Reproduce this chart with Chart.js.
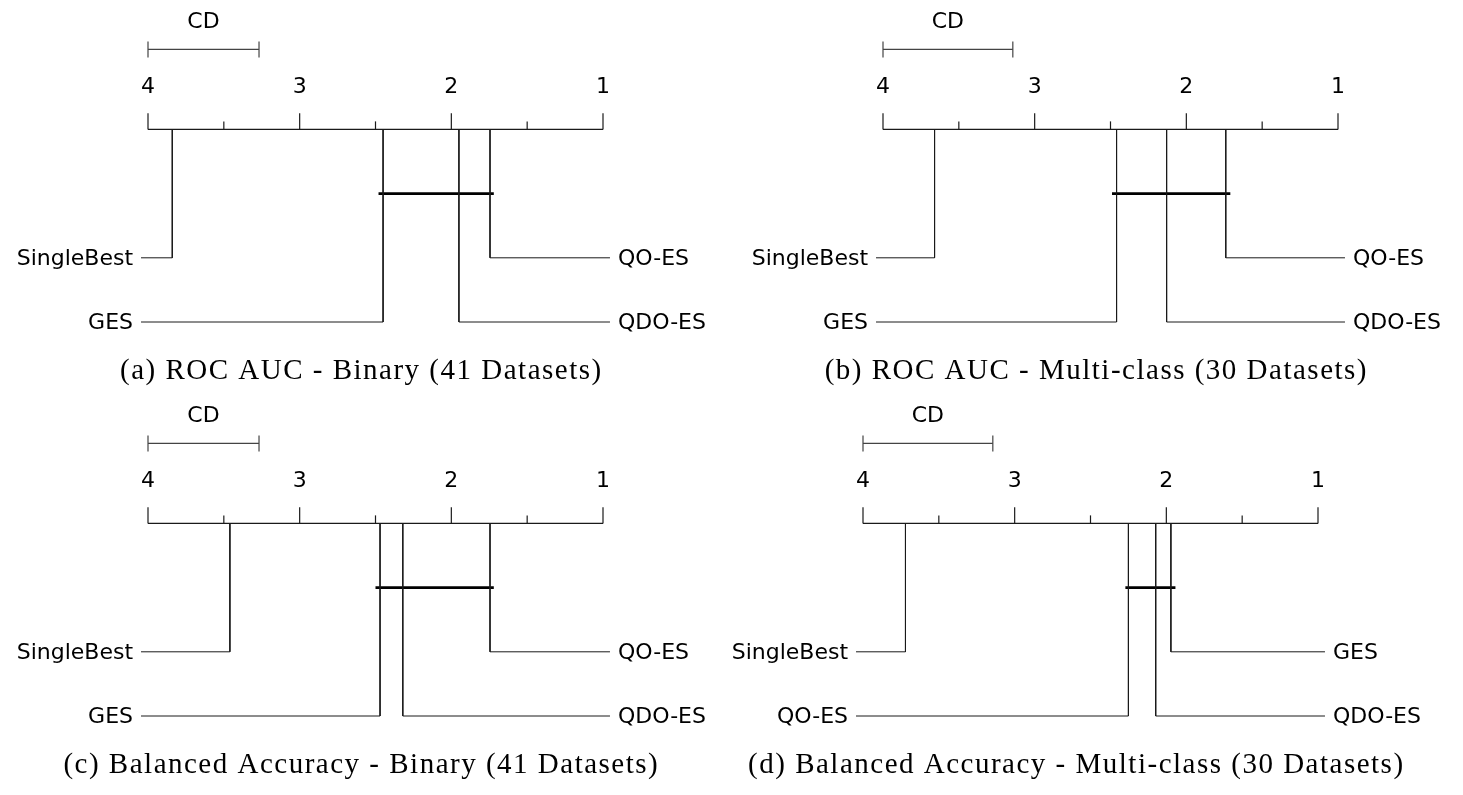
<!DOCTYPE html>
<html>
<head>
<meta charset="utf-8">
<script src="https://cdn.jsdelivr.net/npm/chart.js@4.4.1/dist/chart.umd.min.js"></script>
<style>
  html, body { margin: 0; padding: 0; background: #fff; width: 1463px; height: 795px; overflow: hidden; }
  canvas { position: absolute; }
</style>
</head>
<body>
<canvas id="ca" width="731" height="395" style="left:0px;top:0px"></canvas>
<canvas id="cb" width="732" height="395" style="left:731px;top:0px"></canvas>
<canvas id="cc" width="731" height="400" style="left:0px;top:395px"></canvas>
<canvas id="cd" width="732" height="400" style="left:731px;top:395px"></canvas>
<script>
// ---- data (average ranks) ----
const tickValues = [4, 3.5, 3, 2.5, 2, 1.5, 1];
const tickLabels = ['4', '', '3', '', '2', '', '1'];

const captionA = '(a) ROC AUC - Binary (41 Datasets)';
const methodsA = ['SingleBest', 'GES', 'QDO-ES', 'QO-ES'];
const ranksA   = [3.84, 2.45, 1.95, 1.745];
const cdA      = 0.732;
const cliqueA  = [2.48, 1.72];

const captionB = '(b) ROC AUC - Multi-class (30 Datasets)';
const methodsB = ['SingleBest', 'GES', 'QDO-ES', 'QO-ES'];
const ranksB   = [3.66, 2.46, 2.13, 1.74];
const cdB      = 0.856;
const cliqueB  = [2.49, 1.71];

const captionC = '(c) Balanced Accuracy - Binary (41 Datasets)';
const methodsC = ['SingleBest', 'GES', 'QDO-ES', 'QO-ES'];
const ranksC   = [3.46, 2.47, 2.32, 1.745];
const cdC      = 0.732;
const cliqueC  = [2.50, 1.72];

const captionD = '(d) Balanced Accuracy - Multi-class (30 Datasets)';
const methodsD = ['SingleBest', 'QO-ES', 'QDO-ES', 'GES'];
const ranksD   = [3.72, 2.25, 2.07, 1.97];
const cdD      = 0.856;
const cliqueD  = [2.27, 1.94];

// ---- style / layout ----
const SANS = '"DejaVu Sans", sans-serif';
const SERIF = '"Liberation Serif", "DejaVu Serif", serif';
const LINE = '#1a1a1a';
const LEFT_END = 4.046, RIGHT_END = 0.954;

function seg(points, width, color) {
  return { data: points, showLine: true, borderColor: color || LINE, borderWidth: width || 1,
           pointRadius: 0, pointHoverRadius: 0, fill: false, clip: false, tension: 0 };
}

function buildPanel(canvasId, caption, methods, ranks, cd, clique, pad) {
  // order: worst ranks on the left, best ranks on the right
  const idx = ranks.map((r, i) => i).sort((a, b) => ranks[b] - ranks[a]);
  const n = methods.length, half = n / 2;
  const placements = [];
  idx.forEach((i, k) => {
    if (k < half) placements.push({ name: methods[i], rank: ranks[i], side: 'L', row: 2 + k });
    else placements.push({ name: methods[i], rank: ranks[i], side: 'R', row: 2 + (n - 1 - k) });
  });

  const datasets = [];
  // axis line
  datasets.push(seg([{ x: tickValues[0], y: 0 }, { x: tickValues[tickValues.length - 1], y: 0 }], 1.2));
  // ticks
  tickValues.forEach((v, i) => {
    const len = tickLabels[i] ? 0.25 : 0.125;
    datasets.push(seg([{ x: v, y: 0 }, { x: v, y: -len }], 1.2));
  });
  // CD bar
  const cdY = -1.246;
  datasets.push(seg([{ x: 4, y: cdY }, { x: 4 - cd, y: cdY }], 1.4, '#444'));
  datasets.push(seg([{ x: 4, y: cdY - 0.125 }, { x: 4, y: cdY + 0.125 }], 1.2, '#444'));
  datasets.push(seg([{ x: 4 - cd, y: cdY - 0.125 }, { x: 4 - cd, y: cdY + 0.125 }], 1.2, '#444'));
  // method lines
  placements.forEach(p => {
    const end = p.side === 'L' ? LEFT_END : RIGHT_END;
    datasets.push(seg([{ x: p.rank, y: 0 }, { x: p.rank, y: p.row }, { x: end, y: p.row }], 1));
  });
  // clique bar
  datasets.push(seg([{ x: clique[0], y: 1 }, { x: clique[1], y: 1 }], 2.6, '#000'));

  const textPlugin = {
    id: 'cdtext',
    afterDraw(chart) {
      const ctx = chart.ctx;
      const xs = chart.scales.x, ys = chart.scales.y;
      ctx.save();
      ctx.fillStyle = '#000';
      ctx.font = '22px ' + SANS;
      ctx.textAlign = 'center';
      ctx.textBaseline = 'alphabetic';
      tickValues.forEach((v, i) => {
        if (tickLabels[i]) ctx.fillText(tickLabels[i], xs.getPixelForValue(v), ys.getPixelForValue(-0.56));
      });
      ctx.fillText('CD', xs.getPixelForValue(4 - cd / 2), ys.getPixelForValue(-1.573));
      let minX = Infinity, maxX = -Infinity;
      placements.forEach(p => {
        const y = ys.getPixelForValue(p.row) + 7;
        if (p.side === 'L') {
          ctx.textAlign = 'right';
          const x = xs.getPixelForValue(LEFT_END) - 8;
          ctx.fillText(p.name, x, y);
          minX = Math.min(minX, x - ctx.measureText(p.name).width);
        } else {
          ctx.textAlign = 'left';
          const x = xs.getPixelForValue(RIGHT_END) + 8;
          ctx.fillText(p.name, x, y);
          maxX = Math.max(maxX, x + ctx.measureText(p.name).width);
        }
      });
      ctx.font = '29px ' + SERIF;
      ctx.letterSpacing = '1.5px';
      ctx.textAlign = 'center';
      ctx.fillText(caption, (minX + maxX) / 2, ys.getPixelForValue(3.886));
      ctx.restore();
    }
  };

  return new Chart(document.getElementById(canvasId), {
    type: 'scatter',
    data: { datasets },
    options: {
      responsive: false,
      animation: false,
      devicePixelRatio: 1,
      events: [],
      layout: { padding: pad },
      plugins: { legend: { display: false }, tooltip: { enabled: false }, title: { display: false } },
      scales: {
        x: { type: 'linear', min: 1, max: 4, reverse: true, display: false },
        y: { type: 'linear', min: -2, max: 3, reverse: true, display: false }
      }
    },
    plugins: [textPlugin]
  });
}

buildPanel('ca', captionA, methodsA, ranksA, cdA, cliqueA, { left: 148, right: 128, top: 1, bottom: 73 });
buildPanel('cb', captionB, methodsB, ranksB, cdB, cliqueB, { left: 152, right: 125, top: 1, bottom: 73 });
buildPanel('cc', captionC, methodsC, ranksC, cdC, cliqueC, { left: 148, right: 128, top: 0, bottom: 79 });
buildPanel('cd', captionD, methodsD, ranksD, cdD, cliqueD, { left: 132, right: 145, top: 0, bottom: 79 });
</script>
</body>
</html>
